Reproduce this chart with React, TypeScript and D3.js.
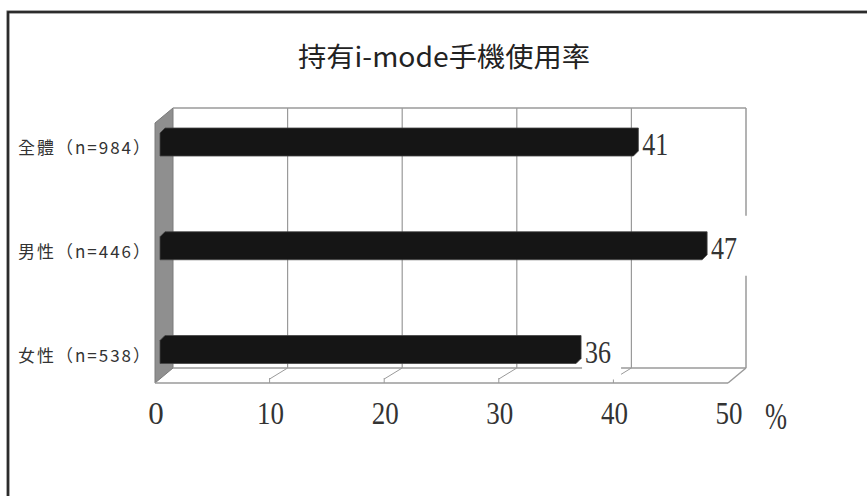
import React from "react";
import * as d3 from "d3";

const title = "持有i-mode手機使用率";
const categories = ["全體(n=984)", "男性(n=446)", "女性(n=538)"];
const values = [41, 47, 36];
const ticks = [0, 10, 20, 30, 40, 50];
const unitLabel = "%";

const W = 867;
const H = 496;

export default function App() {
  const xBack = d3.scaleLinear().domain([0, 50]).range([173, 746]);
  const xFront = d3.scaleLinear().domain([0, 50]).range([155, 728]);
  const xBar = d3.scaleLinear().domain([0, 50]).range([168.5, 741.5]);
  const y = d3.scalePoint<string>().domain(categories).range([142, 349.5]);

  const backTop = 108;
  const backBottom = 368;
  const frontTop = 123;
  const frontBottom = 383;
  const grid = "#9a9a9a";
  const serif = "'Liberation Serif', 'Times New Roman', serif";
  const cjk = "'Noto Sans CJK TC', 'Noto Sans CJK SC', sans-serif";
  const numLen = (v: number) => (String(v).length > 1 ? { textLength: 27, lengthAdjust: "spacingAndGlyphs" } : {});

  return (
    <svg
      width={W}
      height={H}
      viewBox={`0 0 ${W} ${H}`}
      style={{ position: "absolute", left: 0, top: 0, background: "#fff" }}
    >
      {/* outer frame */}
      <rect x={8} y={12} width={W + 20} height={H + 20} fill="#fff" stroke="#555" strokeWidth={3} />
      <rect x={8} y={12} width={W + 20} height={H + 20} fill="none" stroke="#111" strokeWidth={1.2} />

      {/* title */}
      <text
        x={444}
        y={67}
        textAnchor="middle"
        fontFamily={cjk}
        fontSize={27}
        fill="#222"
        textLength={292}
        lengthAdjust="spacingAndGlyphs"
      >
        {title}
      </text>

      {/* left side wall */}
      <polygon
        points={`${xFront(0)},${frontTop} ${xBack(0)},${backTop} ${xBack(0)},${backBottom} ${xFront(0)},${frontBottom}`}
        fill="#8f8f8f"
        stroke="#7a7a7a"
        strokeWidth={1}
      />

      {/* back wall outline */}
      <line x1={xBack(0)} x2={xBack(50)} y1={backTop} y2={backTop} stroke={grid} strokeWidth={1.5} />
      <line x1={xBack(50)} x2={xBack(50)} y1={backTop} y2={backBottom} stroke={grid} strokeWidth={1.5} />
      <line x1={xBack(0)} x2={xBack(50)} y1={backBottom} y2={backBottom} stroke={grid} strokeWidth={1.5} />

      {/* grid lines on back wall and floor */}
      {ticks.slice(1, -1).map((t) => (
        <g key={t}>
          <line x1={xBack(t)} x2={xBack(t)} y1={backTop} y2={backBottom} stroke={grid} strokeWidth={1.2} />
          <line x1={xBack(t)} x2={xFront(t)} y1={backBottom} y2={frontBottom - 4} stroke={grid} strokeWidth={1} />
          <line x1={xFront(t)} x2={xFront(t)} y1={frontBottom - 5} y2={frontBottom} stroke={grid} strokeWidth={1} />
        </g>
      ))}

      {/* floor front edge and right diagonal */}
      <line x1={xFront(0)} x2={xFront(50)} y1={frontBottom} y2={frontBottom} stroke={grid} strokeWidth={1.6} />
      <line x1={xFront(50)} x2={xBack(50)} y1={frontBottom} y2={backBottom} stroke={grid} strokeWidth={1.5} />

      {/* bars */}
      {categories.map((c, i) => {
        const cy = y(c) as number;
        const xe = xBar(values[i]);
        const x0 = 160;
        const pts = [
          [x0, cy - 9],
          [x0 + 5, cy - 14],
          [xe, cy - 14],
          [xe, cy + 9],
          [xe - 5, cy + 14],
          [x0, cy + 14],
        ]
          .map((p) => p.join(","))
          .join(" ");
        return (
          <g key={c}>
            <polygon points={pts} fill="#151515" stroke="#444" strokeWidth={0.8} />
            <rect x={xe + 1} y={cy - 30} width={39} height={60} fill="#fff" />
            <text
              x={xe + 4}
              y={cy + 13}
              fontFamily={serif}
              fontSize={31}
              fill="#333"
              textLength={26}
              lengthAdjust="spacingAndGlyphs"
            >
              {values[i]}
            </text>
          </g>
        );
      })}

      {/* category labels */}
      {categories.map((c) => (
        <text
          key={c}
          x={18}
          y={(y(c) as number) + 12}
          fontFamily={cjk}
          fontSize={17}
          fill="#333"
          textLength={132}
          lengthAdjust="spacing"
        >
          {c.replace("(", "（").replace(")", "）")}
        </text>
      ))}

      {/* tick labels */}
      {ticks.map((t) => (
        <text
          key={t}
          x={xFront(t) + 1}
          y={424}
          textAnchor="middle"
          fontFamily={serif}
          fontSize={31}
          fill="#333"
          {...(numLen(t) as any)}
        >
          {t}
        </text>
      ))}
      <text
        x={776}
        y={429}
        textAnchor="middle"
        fontFamily={serif}
        fontSize={38}
        fill="#333"
        textLength={22}
        lengthAdjust="spacingAndGlyphs"
      >
        {unitLabel}
      </text>
    </svg>
  );
}
